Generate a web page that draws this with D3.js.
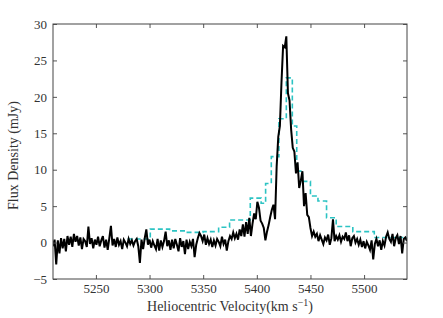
<!DOCTYPE html>
<html>
<head>
<meta charset="utf-8">
<script src="https://cdn.jsdelivr.net/npm/d3@7"></script>
<style>
  body { margin: 0; background: #fff; }
  svg { display: block; }
  text { font-family: "Liberation Serif", "DejaVu Serif", serif; fill: #333; }
</style>
</head>
<body>
<div id="chart"></div>
<script>
const WIDTH = 443
const HEIGHT = 318
const MARGIN = { top: 24, right: 36, bottom: 39, left: 53 }

// spectrum channels: first channel velocity and channel width (km/s)
const V_START = 5210
const V_STEP = 1.5

// flux density (mJy) per channel
const flux = [
  -0.5, 0.4, -3.0, 0.3, -1.5, 0.6, -0.8, 0.5, -1.2, 0.9,
  -0.3, 0.8, -0.6, 1.2, 0.1, 0.9, -0.4, 0.7, -0.9, 0.5,
  0.2, -0.6, 2.2, -0.2, 0.6, -0.8, 0.4, -0.3, 0.8, -0.5,
  0.3, 0.9, -0.7, 0.4, -1.0, 0.6, 2.3, -0.4, 0.5, -0.6,
  0.7, -0.3, 0.2, -0.9, 0.4, 0.0, -0.5, 0.5, -0.2, 0.3,
  -0.4, 0.2, 0.5, -0.5, -2.8, 0.4, -0.9, 0.6, 1.8, -0.3,
  0.4, -0.7, 0.2, -0.4, -0.9, 0.5, -1.1, 0.3, -0.6, 0.2,
  1.5, -0.5, 0.3, -1.0, 0.4, -0.8, 0.5, -0.3, -1.2, 0.6,
  -0.6, 0.2, -1.6, 0.4, -0.9, 0.1, -0.5, 0.5, -2.0, -0.3,
  0.6, 1.3, 0.9, 0.2, 1.1, -0.3, 0.6, -0.2, 0.4, -0.6,
  0.3, -0.4, 0.5, 0.1, -0.5, 0.8, -0.2, 0.4, -1.1, 0.2,
  0.9, 0.5, 1.4, 0.6, 1.2, 0.4, 1.8, 0.9, 2.5, 0.8,
  2.8, 1.2, 3.4, 0.9, 2.6, 4.0, 3.2, 5.6, 4.8, 3.0,
  2.6, 2.0, 0.3, 1.5, 2.4, 3.5, 4.5, 5.2, 3.2, 10.5,
  14.5, 16.0, 22.0, 27.0, 26.8, 28.3, 20.5, 19.5, 15.5, 13.0,
  12.5, 9.5, 11.0, 7.5, 8.5, 9.8, 5.0, 6.8, 3.8, 3.5,
  2.0, 0.9, 1.5, 0.8, 1.2, 0.2, 1.0, 0.4, -0.2, 0.7,
  0.3, 1.1, -0.3, 0.6, 3.2, 0.2, 0.9, 0.4, 1.0, 0.1,
  0.8, 0.5, 1.4, 0.2, 1.0, -0.5, 0.6, 0.9, 0.0, 0.5,
  -0.3, 0.4, -0.6, 0.2, -0.8, 0.1, -0.4, -1.0, 0.3, -2.3,
  -0.2, 0.5, -0.5, 0.3, -1.0, 0.2, -0.4, 0.8, 1.4, 0.5,
  0.1, 1.2, -0.5, 0.6, 1.0, -0.2, 0.9, -1.5, 0.5, 0.7,
  0.2
]

// binned (dashed cyan) spectrum: bin left edges and levels
const binEdges = [5279.6, 5300.7, 5318.7, 5334.3, 5349.8, 5364.4, 5374.6, 5393.9, 5404, 5408.2,
  5413.5, 5420.6, 5427.5, 5433.1, 5437.2, 5442.5, 5450, 5457, 5465, 5474, 5489.5, 5509.5, 5540]
const binFlux = [0.5, 1.85, 1.6, 1.4, 1.5, 2.1, 3.1, 6.1, 5.4, 8.1,
  11.8, 17.0, 22.6, 16.0, 9.8, 8.4, 6.4, 5.7, 3.4, 2.2, 1.5, 0.7, 0.7]

const xTicks = [5250, 5300, 5350, 5400, 5450, 5500]
const yTicks = [-5, 0, 5, 10, 15, 20, 25, 30]

const innerW = WIDTH - MARGIN.left - MARGIN.right
const innerH = HEIGHT - MARGIN.top - MARGIN.bottom

const svg = d3.select('#chart').append('svg')
  .attr('width', WIDTH)
  .attr('height', HEIGHT)

const g = svg.append('g')
  .attr('transform', 'translate(' + MARGIN.left + ',' + MARGIN.top + ')')

const x = d3.scaleLinear().domain([5210, 5540]).range([0, innerW])
const y = d3.scaleLinear().domain([-5, 30]).range([innerH, 0])

g.append('defs').append('clipPath').attr('id', 'clip')
  .append('rect').attr('width', innerW).attr('height', innerH)

const spectrum = flux.map(function (f, i) { return [V_START + i * V_STEP, f] })
const binned = binEdges.map(function (v, i) { return [v, binFlux[i]] })

const plot = g.append('g').attr('clip-path', 'url(#clip)')

plot.append('path')
  .datum(binned)
  .attr('fill', 'none')
  .attr('stroke', '#2cc3c3')
  .attr('stroke-width', 1.6)
  .attr('stroke-dasharray', '5,3')
  .attr('d', d3.line().curve(d3.curveStepAfter)
    .x(function (d) { return x(d[0]) })
    .y(function (d) { return y(d[1]) }))

plot.append('path')
  .datum(spectrum)
  .attr('fill', 'none')
  .attr('stroke', '#000')
  .attr('stroke-width', 2)
  .attr('stroke-linejoin', 'miter')
  .attr('d', d3.line()
    .x(function (d) { return x(d[0]) })
    .y(function (d) { return y(d[1]) }))

// axes with inward ticks on all four sides
function styleAxis (sel) {
  sel.select('.domain').remove()
  sel.selectAll('.tick line').attr('stroke', '#555')
  sel.selectAll('.tick text')
    .style('font-family', '"Liberation Serif", serif')
    .style('font-size', '13px')
    .attr('fill', '#444')
}

g.append('g')
  .attr('transform', 'translate(0,' + innerH + ')')
  .call(d3.axisBottom(x).tickValues(xTicks).tickSize(-4).tickPadding(5).tickFormat(d3.format('d')))
  .call(styleAxis)

g.append('g')
  .call(d3.axisTop(x).tickValues(xTicks).tickSize(-4).tickFormat(''))
  .call(styleAxis)

g.append('g')
  .call(d3.axisLeft(y).tickValues(yTicks).tickSize(-4).tickPadding(6)
    .tickFormat(function (d) { return d < 0 ? '\u2212' + Math.abs(d) : d }))
  .call(styleAxis)

g.append('g')
  .attr('transform', 'translate(' + innerW + ',0)')
  .call(d3.axisRight(y).tickValues(yTicks).tickSize(-4).tickFormat(''))
  .call(styleAxis)

g.append('rect')
  .attr('width', innerW)
  .attr('height', innerH)
  .attr('fill', 'none')
  .attr('stroke', '#444')
  .attr('stroke-width', 1)

const xLabel = svg.append('text')
  .attr('x', MARGIN.left + innerW / 2)
  .attr('y', HEIGHT - 7)
  .attr('text-anchor', 'middle')
  .style('font-size', '14px')
  .attr('fill', '#444')
xLabel.append('tspan').text('Heliocentric Velocity(km s')
xLabel.append('tspan').attr('dy', -5).style('font-size', '10px').text('\u22121')
xLabel.append('tspan').attr('dy', 5).text(')')

svg.append('text')
  .attr('transform', 'translate(18,' + (MARGIN.top + innerH / 2 + 4) + ') rotate(-90)')
  .attr('text-anchor', 'middle')
  .style('font-size', '14px')
  .attr('fill', '#444')
  .text('Flux Density (mJy)')
</script>
</body>
</html>
